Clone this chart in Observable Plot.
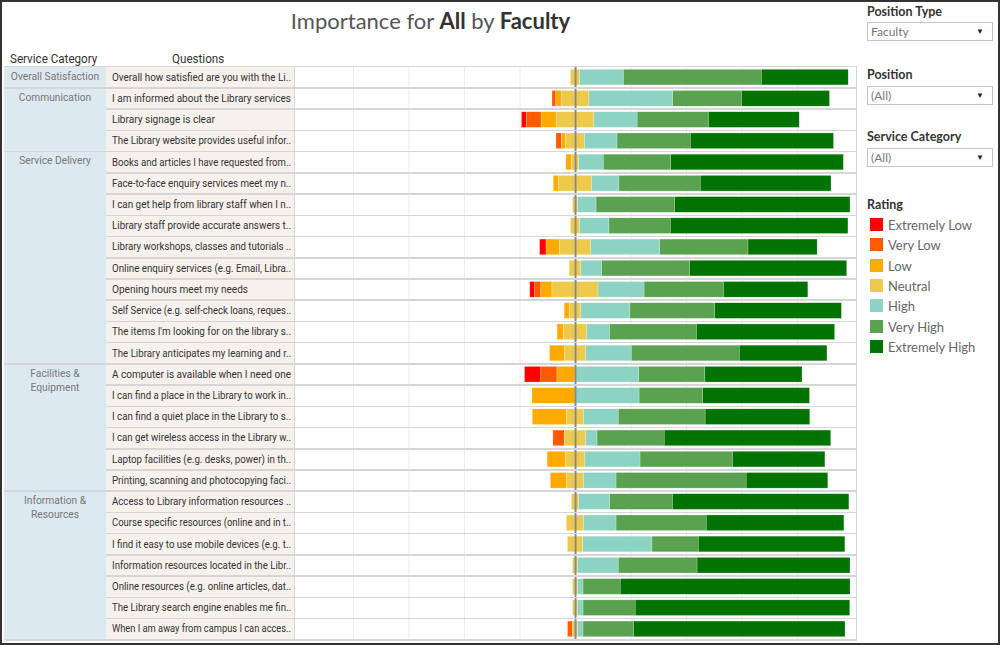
<!DOCTYPE html>
<html>
<head>
<meta charset="utf-8">
<script src="https://cdn.jsdelivr.net/npm/d3@7"></script>
<script src="https://cdn.jsdelivr.net/npm/@observablehq/plot@0.6"></script>
<style>
  html, body { margin: 0; padding: 0; background: #fff; }
  body { width: 1000px; height: 645px; position: relative; overflow: hidden; font-family: "Roboto", sans-serif; }
  #frame { position: absolute; left: 0; top: 0; width: 1000px; height: 645px; box-sizing: border-box; border: 2px solid #333; z-index: 10; pointer-events: none; }
  .abs { position: absolute; }
  #title { top: 7px; left: 0; width: 861px; text-align: center; font-family: Lato, sans-serif; font-size: 22px; color: #555; font-weight: 400; }
  #title b { font-weight: 700; color: #333; }
  .hdr { font-size: 12.5px; color: #333; top: 51px; transform: scaleX(0.93); transform-origin: left center; white-space: nowrap; }
  .q { font-size: 11.5px; color: #333; white-space: nowrap; left: 112px; transform-origin: left center; }
  .cat { font-size: 11.5px; color: #777; text-align: center; left: 4px; width: 102px; line-height: 14px; transform: scaleX(0.89); transform-origin: center center; }
  .sep { height: 1px; background: #d6d6d6; z-index: 5; }
  .flabel { font-family: Lato, sans-serif; font-weight: 700; font-size: 12.5px; color: #333; left: 867px; }
  .fbox { left: 867px; width: 126px; height: 19px; box-sizing: border-box; border: 1px solid #c4c4c4; background: #fff; font-family: Lato, sans-serif; font-size: 12px; color: #777; padding-left: 3px; line-height: 17px; }
  .fbox span { position: absolute; right: 8px; top: 0; font-size: 8px; color: #222; }
  .lg { font-family: Lato, sans-serif; font-size: 13px; color: #666; left: 888px; }
  .sw { left: 870px; width: 13px; height: 13px; }
</style>
</head>
<body>
<div id="frame"></div>
<div id="title" class="abs">Importance for <b>All</b> by <b>Faculty</b></div>
<div id="root"></div>
<script>
// ---- data ----
const categories = ["Overall Satisfaction", "Communication", "Service Delivery", "Facilities &\nEquipment", "Information &\nResources"];
const categorySizes = [1, 3, 10, 6, 7];
const questions = [
  "Overall how satisfied are you with the Li..",
  "I am informed about the Library services",
  "Library signage is clear",
  "The Library website provides useful infor..",
  "Books and articles I have requested from..",
  "Face-to-face enquiry services meet my n..",
  "I can get help from library staff when I n..",
  "Library staff provide accurate answers t..",
  "Library workshops, classes and tutorials ..",
  "Online enquiry services (e.g. Email, Libra..",
  "Opening hours meet my needs",
  "Self Service (e.g. self-check loans, reques..",
  "The items I'm looking for on the library s..",
  "The Library anticipates my learning and r..",
  "A computer is available when I need one",
  "I can find a place in the Library to work in..",
  "I can find a quiet place in the Library to s..",
  "I can get wireless access in the Library w..",
  "Laptop facilities (e.g. desks, power) in th..",
  "Printing, scanning and photocopying faci..",
  "Access to Library information resources ..",
  "Course specific resources (online and in t..",
  "I find it easy to use mobile devices (e.g. t..",
  "Information resources located in the Libr..",
  "Online resources (e.g. online articles, dat..",
  "The Library search engine enables me fin..",
  "When I am away from campus I can acces.."
];
const ratings = ["Extremely Low", "Very Low", "Low", "Neutral", "High", "Very High", "Extremely High"];
const ratingColors = ["#ff0000", "#ff5a00", "#ffaa00", "#edc94c", "#8dd3c4", "#5aa150", "#007300"];
// percentages per question
const extremelyLow  = [0, 0, 1.8, 0, 0, 0, 0, 0, 2.3, 0, 1.8, 0, 0, 0, 5.9, 0, 0, 0, 0, 0, 0, 0, 0, 0, 0, 0, 0];
const veryLow       = [0, 1.4, 5.3, 1.9, 0, 0, 0, 0, 0, 0, 2.2, 0, 0, 0, 5.8, 0, 0, 4.1, 0, 0, 0, 0, 0, 0, 0, 0, 1.8];
const low           = [0, 1.9, 5.4, 1.5, 2.0, 1.8, 0, 0, 4.8, 0, 4.0, 1.8, 2.2, 5.4, 6.5, 15.5, 12.3, 0, 6.5, 5.8, 0, 0, 0, 0, 0, 0, 0];
const neutral       = [3.3, 10.0, 13.6, 6.9, 2.6, 12.1, 1.8, 3.3, 11.3, 4.2, 16.6, 4.2, 8.5, 7.6, 0, 0, 6.2, 7.7, 7.1, 6.2, 2.6, 6.2, 5.5, 1.8, 1.8, 1.8, 1.8];
const high          = [15.8, 30.2, 15.6, 11.7, 8.9, 9.8, 6.7, 10.6, 24.9, 7.5, 16.6, 17.7, 8.2, 16.5, 23.0, 23.1, 12.5, 4.1, 19.9, 11.7, 11.2, 11.7, 25.0, 14.7, 2.0, 2.0, 2.0];
const veryHigh      = [49.7, 24.8, 25.7, 26.4, 24.3, 29.3, 28.3, 22.1, 31.8, 31.7, 28.6, 30.5, 31.3, 38.9, 23.8, 22.9, 31.3, 24.2, 33.3, 46.9, 22.6, 32.5, 16.7, 28.4, 13.4, 18.8, 18.2];
const extremelyHigh = [31.3, 31.7, 32.7, 51.6, 62.2, 47.1, 63.2, 64.0, 24.9, 56.6, 30.4, 45.7, 49.8, 31.6, 35.0, 38.5, 37.7, 60.0, 33.3, 29.4, 63.6, 49.6, 52.8, 55.1, 82.8, 77.3, 76.2];

// ---- tidy table for Plot (neutral split around zero) ----
const series = [extremelyLow, veryLow, low, neutral, high, veryHigh, extremelyHigh];
const rows = [];
questions.forEach((q, i) => {
  ratings.forEach((r, k) => {
    const v = series[k][i] / 100;
    if (!v) return;
    if (r === "Neutral") {
      rows.push({question: q, rating: r, value: -v / 2});
      rows.push({question: q, rating: r, value: v / 2});
    } else {
      rows.push({question: q, rating: r, value: k < 3 ? -v : v});
    }
  });
});
const stackOrder = ["Neutral", "Low", "High", "Very Low", "Very High", "Extremely Low", "Extremely High"];
const gridValues = [-0.8, -0.6, -0.4, -0.2, 0.2, 0.4, 0.6, 0.8];

// ---- layout ----
const root = document.getElementById("root");
const TOP = 66, H = 574, PANE_L = 294, PANE_R = 857;

const chart = Plot.plot({
  width: PANE_R - PANE_L, height: H,
  marginLeft: 3.5, marginRight: 4.5, marginTop: 0.5, marginBottom: 0.5,
  style: {background: "white", overflow: "visible"},
  x: {domain: [-1, 1], axis: null},
  y: {domain: questions, axis: null, padding: 0, round: false},
  color: {domain: ratings, range: ratingColors},
  marks: [
    Plot.ruleX(gridValues, {stroke: "#ececec", strokeWidth: 1}),
    Plot.barX(rows, {
      x: "value", y: "question", fill: "rating", order: stackOrder,
      insetTop: 2.8, insetBottom: 2.8, stroke: "#ffffff", strokeWidth: 0.5, strokeOpacity: 0.45
    }),
    Plot.ruleX([0], {stroke: "#8a8a8a", strokeWidth: 2})
  ]
});
chart.style.position = "absolute";
chart.style.left = PANE_L + "px";
chart.style.top = TOP + "px";
root.appendChild(chart);

const y = chart.scale("y");
const bw = y.bandwidth;
function el(cls, css, html) {
  const d = document.createElement("div");
  d.className = "abs " + cls;
  Object.assign(d.style, css);
  if (html != null) d.innerHTML = html;
  root.appendChild(d);
  return d;
}
// column backgrounds
el("", {left: "4px", top: TOP + "px", width: "102px", height: H + "px", background: "#dde9f0"});
el("", {left: "106px", top: TOP + "px", width: "188px", height: H + "px", background: "#f6f1ed"});
// headers
el("hdr", {left: "10px"}, "Service Category");
el("hdr", {left: "172px"}, "Questions");
// top border & pane borders
el("sep", {left: "4px", top: TOP + "px", width: (PANE_R - 4) + "px", height: "1px"});
el("sep", {left: PANE_L + "px", top: TOP + "px", width: "1px", height: H + "px"});
el("sep", {left: (PANE_R - 1) + "px", top: TOP + "px", width: "1px", height: H + "px"});
// question rows
const MAXW = 179;
questions.forEach((q, i) => {
  const top = TOP + y.apply(q);
  const d = el("q", {top: (top + bw / 2 - 8.5) + "px", lineHeight: "16px"}, q.replace(/&/g, "&amp;"));
  const w = d.getBoundingClientRect().width;
  const s = Math.min(0.875, MAXW / w);
  d.style.transform = "scaleX(" + s + ")";
  el("sep", {left: "106px", top: (top + bw - 0.5) + "px", width: (PANE_R - 106) + "px", height: "1.5px"});
});
// category groups
let start = 0;
categories.forEach((c, g) => {
  const first = questions[start];
  const top = TOP + y.apply(first);
  el("cat", {top: (top + 2) + "px"}, c.replace(/&/g, "&amp;").replace("\n", "<br>"));
  const last = questions[start + categorySizes[g] - 1];
  const bottom = TOP + y.apply(last) + bw;
  el("sep", {left: "4px", top: (bottom - 0.5) + "px", width: "102px", height: "1.5px"});
  start += categorySizes[g];
});

// filters
el("flabel", {top: "4px"}, "Position Type");
el("fbox", {top: "22px"}, "Faculty<span>&#9660;</span>");
el("flabel", {top: "67px"}, "Position");
el("fbox", {top: "86px"}, "(All)<span>&#9660;</span>");
el("flabel", {top: "129px"}, "Service Category");
el("fbox", {top: "148px"}, "(All)<span>&#9660;</span>");
// legend
el("flabel", {top: "197px"}, "Rating");
ratings.forEach((r, k) => {
  const cy = 225 + k * 20.3;
  el("sw", {top: (cy - 7) + "px", background: ratingColors[k]});
  el("lg", {top: (cy - 9) + "px", lineHeight: "18px"}, r);
});
</script>
</body>
</html>
